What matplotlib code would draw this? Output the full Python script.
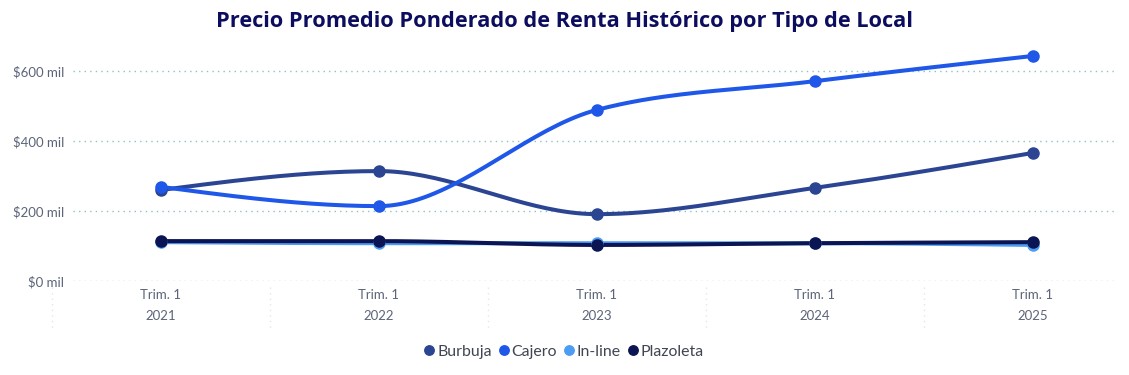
import matplotlib

matplotlib.use("Agg")
import matplotlib.pyplot as plt
import numpy as np

years = ["2021", "2022", "2023", "2024", "2025"]
quarter_label = "Trim. 1"

burbuja = [260, 314, 191, 266, 366]
cajero = [269, 214, 489, 571, 643]
in_line = [111, 108, 108, 108, 103]
plazoleta = [114, 114, 103, 108, 111]

series = [
    ("Burbuja", burbuja, "#2b4592"),
    ("Cajero", cajero, "#1f57e8"),
    ("In-line", in_line, "#4d9cf3"),
    ("Plazoleta", plazoleta, "#0b1553"),
]

y_ticks = [0, 200, 400, 600]


def monotone_curve(x, y, n=40):
    # cubic hermite with monotone slopes, like the smooth lines in the report
    x = np.asarray(x, float)
    y = np.asarray(y, float)
    h = np.diff(x)
    s = np.diff(y) / h
    t = np.zeros_like(y)
    for i in range(1, len(y) - 1):
        p = (s[i - 1] * h[i] + s[i] * h[i - 1]) / (h[i - 1] + h[i])
        t[i] = (np.sign(s[i - 1]) + np.sign(s[i])) * min(
            abs(s[i - 1]), abs(s[i]), 0.5 * abs(p)
        )
    t[0] = (3 * s[0] - t[1]) / 2
    t[-1] = (3 * s[-1] - t[-2]) / 2
    xs, ys = [], []
    for i in range(len(h)):
        u = np.linspace(0, 1, n)
        h00 = 2 * u**3 - 3 * u**2 + 1
        h10 = u**3 - 2 * u**2 + u
        h01 = -2 * u**3 + 3 * u**2
        h11 = u**3 - u**2
        xs.append(x[i] + u * h[i])
        ys.append(h00 * y[i] + h10 * h[i] * t[i] + h01 * y[i + 1] + h11 * h[i] * t[i + 1])
    return np.concatenate(xs), np.concatenate(ys)


fig = plt.figure(figsize=(11.29, 3.75), dpi=100)
ax = fig.add_axes([73 / 1129, 94 / 375, (1118 - 73) / 1129, 241.5 / 375])

x = np.arange(len(years))
for name, values, color in series:
    cx, cy = monotone_curve(x, values)
    ax.plot(cx, cy, color=color, lw=2.9, solid_capstyle="round", zorder=3)
    ax.plot(x, values, "o", color=color, ms=8, zorder=4, label=name)

ax.set_xlim((73 - 161) / 218, (1118 - 161) / 218)
ax.set_ylim(0, 690)

for v in y_ticks:
    ax.axhline(v, color="#8cc3c3", lw=1, ls=(0, (1, 3)), zorder=1)

for b in np.arange(-0.5, len(years) - 1, 1.0):
    ax.plot([b, b], [-17, -140], color="#e3e6ea", lw=1, ls=(0, (1, 3)), clip_on=False)

for side in ax.spines.values():
    side.set_visible(False)

ax.set_yticks(y_ticks)
ax.set_yticklabels([f"${v} mil" for v in y_ticks], fontfamily="Lato", fontsize=9.5, color="#5b6478")
ax.set_xticks(x)
ax.set_xticklabels([f"{quarter_label}\n{yr}" for yr in years], fontfamily="Lato", fontsize=9.5,
                   color="#5b6478", linespacing=1.95)
ax.tick_params(axis="y", length=0, pad=6.5)
ax.tick_params(axis="x", length=0, pad=5.5)

fig.text(0.5, 1 - 21 / 375, "Precio Promedio Ponderado de Renta Histórico por Tipo de Local",
         ha="center", va="center", fontfamily="Open Sans", fontweight="bold", fontsize=15.7,
         color="#0c0d5e")

fig.legend(loc="center", bbox_to_anchor=(0.5, 1 - 352 / 375), ncol=4, frameon=False,
           handlelength=0.5, handletextpad=0.25, columnspacing=0.5, markerscale=0.85,
           prop={"family": "Lato", "size": 11.4}, labelcolor="#404552")

fig.savefig("out.png", dpi=100)
